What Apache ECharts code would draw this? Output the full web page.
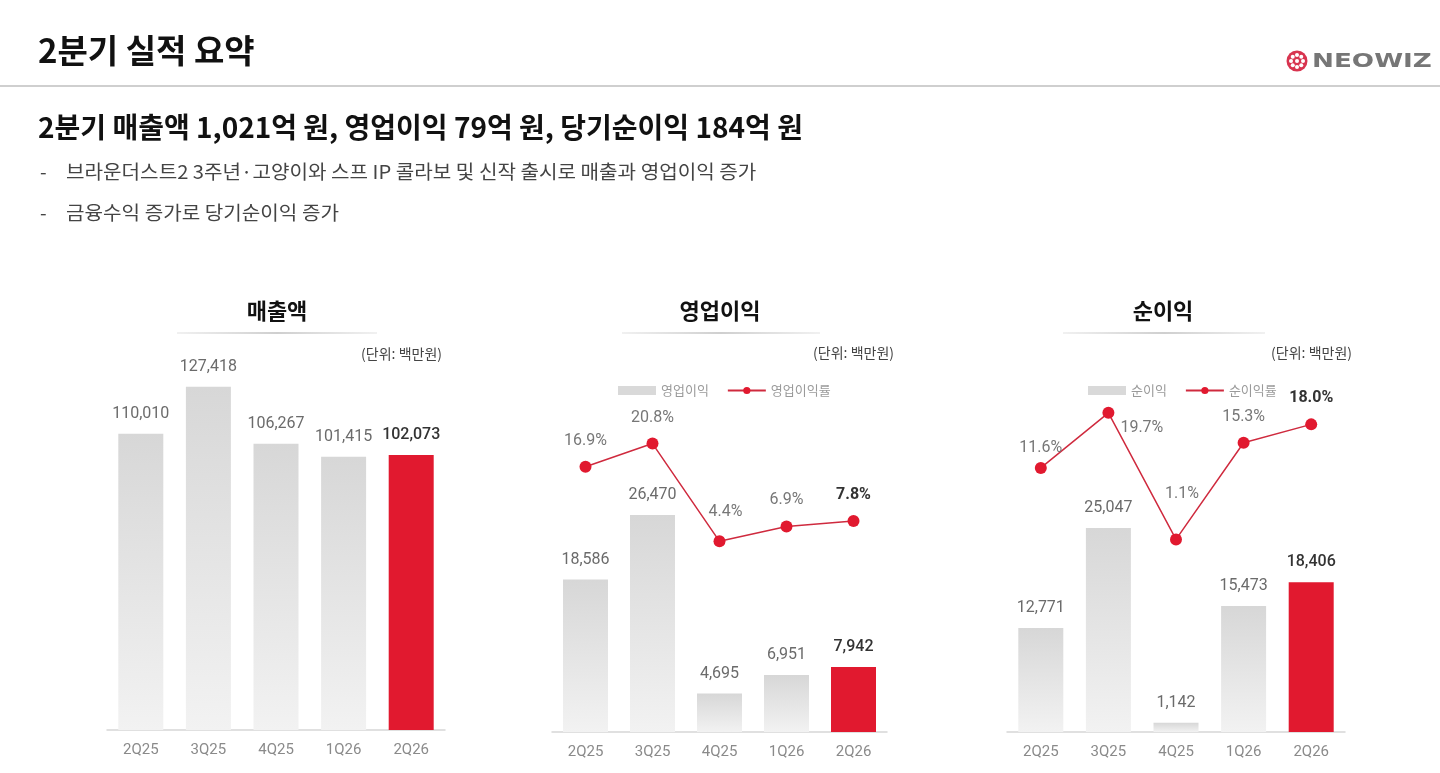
<!DOCTYPE html>
<html>
<head>
<meta charset="utf-8">
<style>
  html, body { margin: 0; padding: 0; background: #fff; }
  #main { width: 1440px; height: 773px; }
</style>
<script src="https://cdn.jsdelivr.net/npm/echarts@6/dist/echarts.min.js"></script>
</head>
<body>
<div id="main"></div>
<script>
const quarters = ['2Q25', '3Q25', '4Q25', '1Q26', '2Q26'];
const revenue = [110010, 127418, 106267, 101415, 102073];
const opProfit = [18586, 26470, 4695, 6951, 7942];
const opMargin = [16.9, 20.8, 4.4, 6.9, 7.8];
const netProfit = [12771, 25047, 1142, 15473, 18406];
const netMargin = [11.6, 19.7, 1.1, 15.3, 18.0];

const KR = '"Noto Sans CJK KR", sans-serif';
const NUM = 'Roboto, "Noto Sans CJK KR", sans-serif';
const RED = '#e1192f';
const LINE_RED = '#cf2a3e';
const last = quarters.length - 1;

const grayBar = new echarts.graphic.LinearGradient(0, 0, 0, 1, [
  { offset: 0, color: '#d7d7d7' },
  { offset: 1, color: '#f2f2f2' }
]);

const fmtNum = p => Number(p.value).toLocaleString('en-US');
const fmtPct = p => Number(p.value).toFixed(1) + '%';

// last quarter is highlighted in red with a darker label
const barData = values => values.map((v, i) => i === last
  ? { value: v, itemStyle: { color: RED }, label: { color: '#333', fontWeight: 500 } }
  : v);

const lineData = (values, labelTweaks) => values.map((v, i) => {
  const item = { value: v };
  if (labelTweaks[i]) item.label = labelTweaks[i];
  if (i === last) item.label = Object.assign({ color: '#333', fontWeight: 'bold' }, item.label);
  return item;
});

const barLabel = {
  show: true,
  position: 'top',
  distance: 12,
  color: '#6b6b6b',
  fontSize: 16,
  fontFamily: NUM,
  formatter: fmtNum
};

const lineLabel = {
  show: true,
  position: 'top',
  distance: 12,
  color: '#777',
  fontSize: 16,
  fontFamily: NUM,
  formatter: fmtPct
};

const lineStyleOpts = {
  type: 'line',
  symbol: 'circle',
  symbolSize: 12,
  itemStyle: { color: RED },
  lineStyle: { color: LINE_RED, width: 1.5 },
  z: 5
};

const xAxisBase = idx => ({
  type: 'category',
  gridIndex: idx,
  data: quarters,
  axisTick: { show: false },
  axisLine: { lineStyle: { color: '#d6d6d6', width: 1.5 } },
  axisLabel: { color: '#8a8a8a', fontSize: 15, fontFamily: NUM, margin: 13 }
});

const hiddenY = (idx, min, max) => ({
  type: 'value', gridIndex: idx, min: min, max: max, show: false, splitLine: { show: false }
});

const textEl = (x, y, text, opts) => ({
  type: 'text',
  x: x,
  y: y,
  scaleX: (opts && opts.scaleX) || 1,
  style: Object.assign({
    text: text,
    x: 0,
    y: 0,
    fill: '#111',
    font: '16px ' + KR,
    textVerticalAlign: 'middle'
  }, opts && opts.style)
});

const underline = (x1, x2, y) => ({
  type: 'line',
  shape: { x1: x1, y1: y, x2: x2, y2: y },
  style: {
    lineWidth: 2,
    stroke: new echarts.graphic.LinearGradient(0, 0, 1, 0, [
      { offset: 0, color: 'rgba(210,210,210,0.3)' },
      { offset: 0.5, color: '#cfcfcf' },
      { offset: 1, color: 'rgba(210,210,210,0.3)' }
    ])
  }
});

// little flower mark for the logo
const logoParts = [{ type: 'circle', shape: { cx: 1297, cy: 61, r: 10.5 }, style: { fill: '#d8344f' } }];
for (let k = 0; k < 8; k++) {
  const a = k * Math.PI / 4;
  logoParts.push({
    type: 'circle',
    shape: { cx: 1297 + 6 * Math.cos(a), cy: 61 + 6 * Math.sin(a), r: 2 },
    style: { fill: '#fff' }
  });
}
logoParts.push({ type: 'circle', shape: { cx: 1297, cy: 61, r: 2 }, style: { fill: '#fff' } });

const bulletStyle = { font: '19px ' + KR, fill: '#444' };

const chart = echarts.init(document.getElementById('main'));

chart.setOption({
  backgroundColor: '#fff',
  animation: false,
  grid: [
    { left: 107, width: 338, top: 326, bottom: 43 },
    { left: 552, width: 335, top: 322, bottom: 41 },
    { left: 1007, width: 338, top: 325, bottom: 41 }
  ],
  xAxis: [xAxisBase(0), xAxisBase(1), xAxisBase(2)],
  yAxis: [
    hiddenY(0, 0, 150000),
    hiddenY(1, 0, 50000),
    hiddenY(1, -27.6, 41.2),
    hiddenY(2, 0, 50000),
    hiddenY(2, -27.2, 32.6)
  ],
  legend: [
    {
      left: 613,
      top: 379,
      itemWidth: 38,
      itemHeight: 9,
      itemGap: 18,
      textStyle: { color: '#9a9a9a', fontSize: 13, fontFamily: KR },
      data: [
        { name: '영업이익', icon: 'rect', itemStyle: { color: '#d9d9d9' } },
        { name: '영업이익률' }
      ]
    },
    {
      left: 1083,
      top: 379,
      itemWidth: 38,
      itemHeight: 9,
      itemGap: 18,
      textStyle: { color: '#9a9a9a', fontSize: 13, fontFamily: KR },
      data: [
        { name: '순이익', icon: 'rect', itemStyle: { color: '#d9d9d9' } },
        { name: '순이익률' }
      ]
    }
  ],
  series: [
    {
      name: '매출액',
      type: 'bar',
      xAxisIndex: 0,
      yAxisIndex: 0,
      barWidth: 45,
      itemStyle: { color: grayBar },
      label: barLabel,
      data: barData(revenue)
    },
    {
      name: '영업이익',
      type: 'bar',
      xAxisIndex: 1,
      yAxisIndex: 1,
      barWidth: 45,
      itemStyle: { color: grayBar },
      label: barLabel,
      data: barData(opProfit)
    },
    Object.assign({}, lineStyleOpts, {
      name: '영업이익률',
      xAxisIndex: 1,
      yAxisIndex: 2,
      label: lineLabel,
      data: lineData(opMargin, { 2: { offset: [6, -3] } })
    }),
    {
      name: '순이익',
      type: 'bar',
      xAxisIndex: 2,
      yAxisIndex: 3,
      barWidth: 45,
      itemStyle: { color: grayBar },
      label: barLabel,
      data: barData(netProfit)
    },
    Object.assign({}, lineStyleOpts, {
      name: '순이익률',
      xAxisIndex: 2,
      yAxisIndex: 4,
      label: lineLabel,
      data: lineData(netMargin, {
        0: { offset: [0, 6] },
        1: { position: 'right', distance: 6, offset: [0, 15] },
        2: { offset: [6, -19] }
      })
    })
  ],
  graphic: [
    textEl(38, 50, '2분기 실적 요약', { style: { font: 'bold 33px ' + KR, fill: '#111' } }),
    { type: 'line', shape: { x1: 0, y1: 86, x2: 1440, y2: 86 }, style: { stroke: '#cfcfcf', lineWidth: 2 } },
    { type: 'group', children: logoParts },
    textEl(1312, 62, 'NEOWIZ', { scaleX: 1.38, style: { font: 'bold 19px "DejaVu Sans", sans-serif', fill: '#767676' } }),
    textEl(38, 127, '2분기 매출액 1,021억 원, 영업이익 79억 원, 당기순이익 184억 원',
      { style: { font: 'bold 28px ' + KR, fill: '#111' } }),
    textEl(40, 172, '-', { style: bulletStyle }),
    textEl(66, 172, '브라운더스트2 3주년·고양이와 스프 IP 콜라보 및 신작 출시로 매출과 영업이익 증가',
      { scaleX: 1.06, style: bulletStyle }),
    textEl(40, 213, '-', { style: bulletStyle }),
    textEl(66, 213, '금융수익 증가로 당기순이익 증가', { scaleX: 1.06, style: bulletStyle }),

    textEl(277, 311, '매출액', { style: { font: 'bold 22px ' + KR, fill: '#111', textAlign: 'center' } }),
    underline(177, 377, 333),
    textEl(442, 354, '(단위: 백만원)', { style: { font: '14px ' + KR, fill: '#444', textAlign: 'right' } }),

    textEl(720, 311, '영업이익', { style: { font: 'bold 22px ' + KR, fill: '#111', textAlign: 'center' } }),
    underline(622, 820, 333),
    textEl(894, 353, '(단위: 백만원)', { style: { font: '14px ' + KR, fill: '#444', textAlign: 'right' } }),

    textEl(1163, 311, '순이익', { style: { font: 'bold 22px ' + KR, fill: '#111', textAlign: 'center' } }),
    underline(1063, 1265, 333),
    textEl(1352, 353, '(단위: 백만원)', { style: { font: '14px ' + KR, fill: '#444', textAlign: 'right' } })
  ]
});
</script>
</body>
</html>
